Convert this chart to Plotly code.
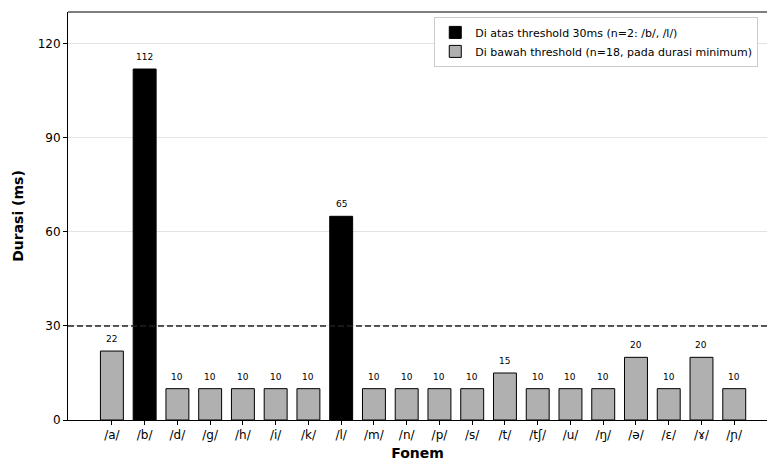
import plotly.graph_objects as go

phonemes = ["/a/", "/b/", "/d/", "/g/", "/h/", "/i/", "/k/", "/l/", "/m/", "/n/",
            "/p/", "/s/", "/t/", "/tʃ/", "/u/", "/ŋ/", "/ə/", "/ɛ/", "/ɤ/", "/ɲ/"]
durations = [22, 112, 10, 10, 10, 10, 10, 65, 10, 10,
             10, 10, 15, 10, 10, 10, 20, 10, 20, 10]
threshold = 30

above_x = [p for p, d in zip(phonemes, durations) if d > threshold]
above_y = [d for d in durations if d > threshold]
below_x = [p for p, d in zip(phonemes, durations) if d <= threshold]
below_y = [d for d in durations if d <= threshold]

FONT = "DejaVu Sans"

fig = go.Figure()
fig.add_trace(go.Bar(
    x=above_x, y=above_y, name="Di atas threshold 30ms (n=2: /b/, /l/)",
    marker=dict(color="black", line=dict(color="black", width=1)),
    width=0.7,
))
fig.add_trace(go.Bar(
    x=below_x, y=below_y, name="Di bawah threshold (n=18, pada durasi minimum)",
    marker=dict(color="#b0b0b0", line=dict(color="black", width=1)),
    width=0.7,
))

for p, d in zip(phonemes, durations):
    fig.add_annotation(x=p, y=d, text=str(d), showarrow=False, yanchor="bottom",
                       yshift=5, font=dict(size=9, color="black", family=FONT))

fig.add_hline(y=threshold, line=dict(color="#222222", width=1.3, dash="6px,3px"))

fig.update_layout(
    width=767, height=462,
    margin=dict(l=68, r=0, t=12, b=42, autoexpand=False),
    paper_bgcolor="white", plot_bgcolor="white",
    barmode="overlay",
    font=dict(family=FONT, size=12, color="black"),
    showlegend=True,
    legend=dict(
        x=0.524, y=0.988, xanchor="left", yanchor="top",
        bgcolor="white", bordercolor="#cccccc", borderwidth=1,
        font=dict(size=11, family=FONT), traceorder="normal",
        tracegroupgap=0, itemwidth=30,
    ),
    xaxis=dict(
        type="category", categoryorder="array", categoryarray=phonemes,
        range=[-1.34, 20.0], automargin=False,
        showline=True, linecolor="black", linewidth=1, mirror=False,
        ticks="outside", ticklen=4, tickcolor="black",
        tickfont=dict(size=12),
        title=dict(text="<b>Fonem</b>", font=dict(size=14), standoff=6),
        showgrid=False,
    ),
    yaxis=dict(
        range=[0, 130.2], automargin=False,
        tickvals=[0, 30, 60, 90, 120],
        showline=True, linecolor="black", linewidth=1, mirror=False,
        ticks="outside", ticklen=4, tickcolor="black",
        tickfont=dict(size=12),
        title=dict(text="<b>Durasi (ms)</b>", font=dict(size=14), standoff=10),
        showgrid=True, gridcolor="#e3e3e3", gridwidth=1,
        zeroline=False,
    ),
)
# top spine
fig.add_shape(type="line", xref="paper", yref="paper", x0=0, x1=1, y0=1, y1=1,
              line=dict(color="black", width=1))

fig.write_html("out.html", config={"displayModeBar": False},
               post_script="document.body.style.margin='0px';")
